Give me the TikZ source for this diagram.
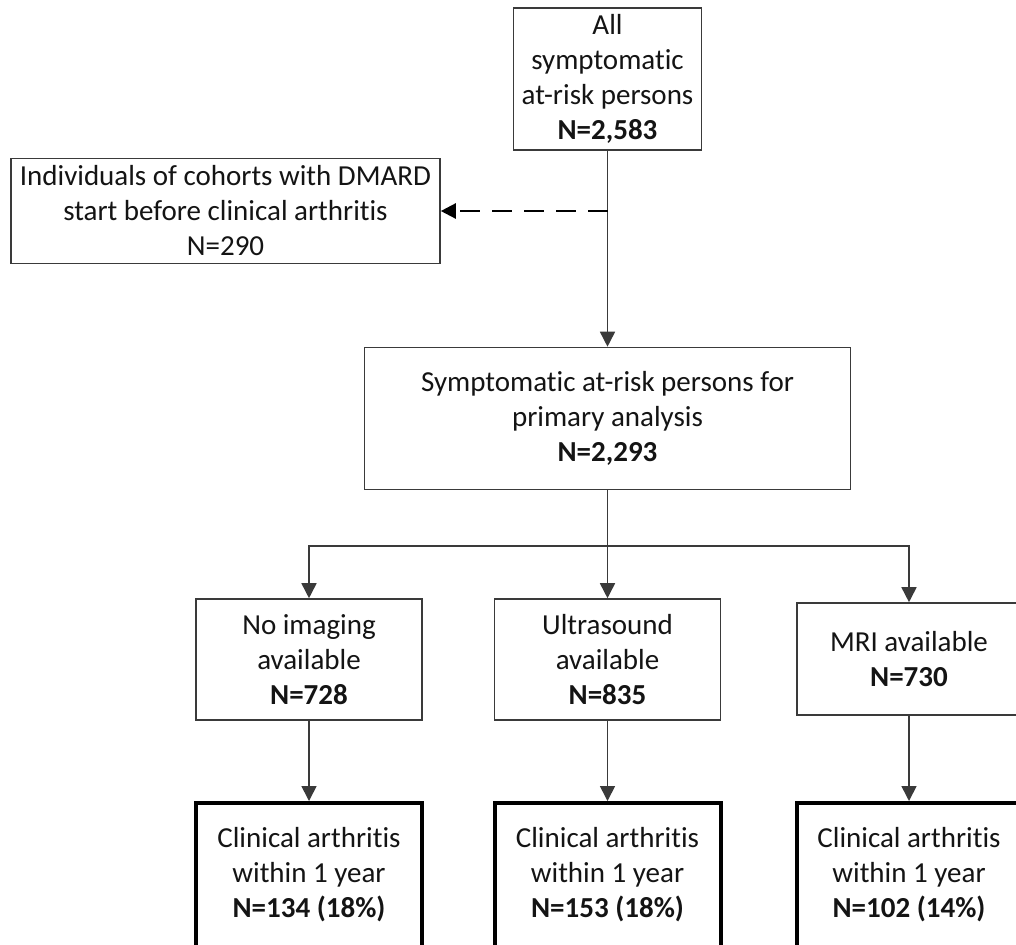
\documentclass[tikz,border=0pt]{standalone}
\usepackage{fontspec}
\setmainfont[RawFeature={-liga;-clig;-calt;-ccmp;-rlig}]{Carlito}
\usepackage{xcolor}
\usetikzlibrary{positioning, arrows.meta}
\definecolor{boxline}{HTML}{3A3A3A}
\definecolor{txt}{HTML}{141414}

\begin{document}
\begin{tikzpicture}[x=0.5pt, y=-0.5pt,
  flowbox/.style={draw=boxline, line width=0.8pt, fill=white, align=center, text=txt, inner sep=0pt,
    font=\fontsize{14.5}{17.5}\selectfont},
  outbox/.style={flowbox, draw=black, line width=2pt},
  arrow/.style={-{Triangle[width=7.5pt, length=7.5pt]}, line width=0.8pt, boxline},
  dasharrow/.style={arrow, line width=1.2pt, black, dash pattern=on 10pt off 6pt}
]
  \useasboundingbox (0,0) rectangle (1016,944);
  % screening
  \node[flowbox, minimum width=94pt, minimum height=71pt] (all) at (607.5,79) {All\\symptomatic\\at-risk persons\\\textbf{N=2,583}};
  \node[flowbox, minimum width=214.5pt, minimum height=52.5pt] (excl) at (225.5,211) {Individuals of cohorts with DMARD\\start before clinical arthritis\\N=290};
  \node[flowbox, minimum width=243pt, minimum height=71pt] (prim) at (607.5,418.5) {Symptomatic at-risk persons for\\primary analysis\\\textbf{N=2,293}};
  % imaging groups
  \node[flowbox, minimum width=113pt, minimum height=60.5pt] (noimg) at (309,659.5) {No imaging\\available\\\textbf{N=728}};
  \node[flowbox, minimum width=113pt, minimum height=60.5pt] (us) at (607.5,659.5) {Ultrasound\\available\\\textbf{N=835}};
  \node[flowbox, minimum width=112pt, minimum height=56pt] (mri) at (909,659) {MRI available\\\textbf{N=730}};
  % outcome
  \node[outbox, minimum width=113pt, minimum height=72pt] (ca1) at (309,875) {Clinical arthritis\\within 1 year\\\textbf{N=134 (18\%)}};
  \node[outbox, minimum width=113pt, minimum height=72pt] (ca2) at (607.5,875) {Clinical arthritis\\within 1 year\\\textbf{N=153 (18\%)}};
  \node[outbox, minimum width=112pt, minimum height=72pt] (ca3) at (909,875) {Clinical arthritis\\within 1 year\\\textbf{N=102 (14\%)}};

  \coordinate (branch) at (607.5,211);
  \coordinate (fork) at (607.5,546);
  \draw[arrow] (all) -- (prim);
  \draw[dasharrow] (branch) -- (excl);
  \draw[line width=0.8pt, boxline] (prim) -- (fork);
  \draw[arrow] (fork) -| (noimg);
  \draw[arrow] (fork) -- (us);
  \draw[arrow] (fork) -| (mri);
  \draw[arrow] (noimg) -- (ca1);
  \draw[arrow] (us) -- (ca2);
  \draw[arrow] (mri) -- (ca3);
\end{tikzpicture}
\end{document}
